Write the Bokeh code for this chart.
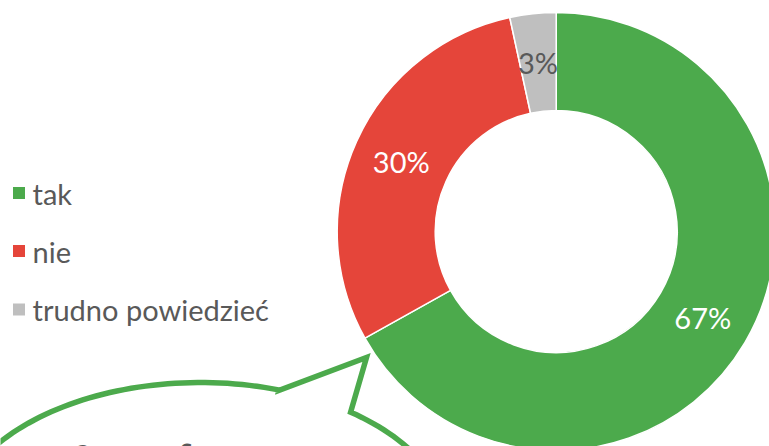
import numpy as np
from bokeh.plotting import figure
from bokeh.models import Range1d, ColumnDataSource
from bokeh.core.properties import value
from bokeh.embed import file_html
from bokeh.resources import INLINE

# ---- data ----
categories = ["tak", "nie", "trudno powiedzieć"]
values = [66.9, 29.7, 3.4]
labels = ["67%", "30%", "3%"]
colors = ["#4CAA4C", "#E5453A", "#BFBFBF"]
label_colors = ["white", "white", "#595959"]
bubble_text = "Sprawy finansowe"

FONT = "Lato"
H = 446  # pixel -> data helper (y up)

def Y(py):
    return H - py

p = figure(width=769, height=446, output_backend="svg", toolbar_location=None,
           x_range=Range1d(0, 769), y_range=Range1d(0, 446), min_border=0)
p.axis.visible = False
p.grid.visible = False
p.outline_line_color = None
p.background_fill_color = "white"
p.border_fill_color = "white"

# ---- donut ----
cx, cy = 555.7, Y(231)
r_in, r_out = 121, 219
fr = np.array(values) / sum(values)
cum = np.concatenate([[0], np.cumsum(fr)])
start = np.pi / 2 - 2 * np.pi * cum[:-1]
end = np.pi / 2 - 2 * np.pi * cum[1:]
mid = (start + end) / 2
r_mid = (r_in + r_out) / 2
src = ColumnDataSource(dict(start=start, end=end, color=colors,
                            lx=cx + r_mid * np.cos(mid), ly=cy + r_mid * np.sin(mid),
                            lab=labels, lc=label_colors))
p.annular_wedge(x=cx, y=cy, inner_radius=r_in, outer_radius=r_out,
                start_angle="start", end_angle="end", direction="clock",
                fill_color="color", line_color="white", line_width=1.5, source=src)
p.text(x="lx", y="ly", text="lab", text_color="lc", text_font=value(FONT),
       text_font_size="29px", text_align="center", text_baseline="middle", source=src)

# ---- legend ----
leg_y = [Y(192.5), Y(250.5), Y(309)]
p.rect(x=[18.5] * 3, y=leg_y, width=12, height=12, fill_color=colors, line_color=None)
p.text(x=[32] * 3, y=leg_y, text=categories, text_color="#595959", text_font=value(FONT),
       text_font_size="29px", text_align="left", text_baseline="middle")

# ---- speech bubble (decoration) ----
ecx, ecy, ea, eb = 200, 530, 250, 148
t = np.radians(np.linspace(71.8, 413.1, 200))
bx = list(ecx + ea * np.cos(t)) + [366, 278]
by = list(ecy - eb * np.sin(t)) + [357, 390]
p.patch(x=bx, y=[Y(v) for v in by], fill_color="white", line_color="#4CAA4C",
        line_width=5.5, line_join="miter")
p.text(x=[73], y=[Y(437)], text=[bubble_text], text_color="#595959", text_font=value("Roboto"),
       text_font_size="30px", text_align="left", text_baseline="top")

open("out.html", "w").write(file_html(p, INLINE))
